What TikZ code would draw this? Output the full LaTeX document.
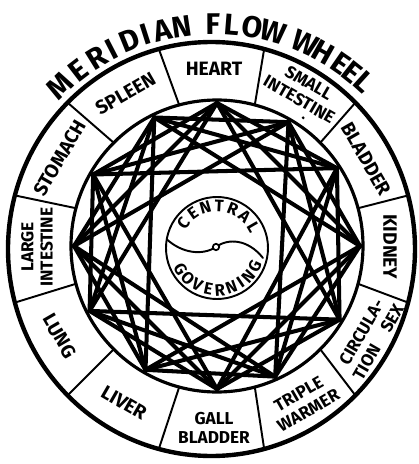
\documentclass[tikz,border=0pt]{standalone}
\usepackage{fontspec}
\setmainfont{Fira Sans}
\begin{document}
\begin{tikzpicture}[x=0.02cm, y=0.02cm, line cap=round, line join=round,
  organ/.style={font=\bfseries\fontsize{11}{11}\selectfont, align=center, inner sep=0pt},
  organtwo/.style={font=\bfseries\fontsize{9.8}{11}\selectfont, align=center, inner sep=0pt},
  titlechar/.style={font=\bfseries\fontsize{17}{17}\selectfont, inner sep=0pt},
  corechar/.style={font=\bfseries\fontsize{9.5}{9.5}\selectfont, inner sep=0pt},
  starline/.style={line width=2.3pt}]
\useasboundingbox (-214,-217) rectangle (205,247);
\coordinate (rimc) at (-2.5,-2);
\coordinate (ringc) at (3,1);
\coordinate (cg) at (3,-1);
% wheel rings and meridian dividers
\draw[line width=2.5pt] (rimc) ellipse [x radius=203.5, y radius=207];
\draw[line width=1.8pt] (ringc) circle [radius=146];
\foreach \a in {15,45,...,345}
  \draw[line width=1.1pt] ([shift={(\a:146)}]ringc) -- ([shift={(\a:203.5 and 207)}]rimc);
% star points
\foreach \n/\a in {0/0, 1/33, 2/60, 3/90, 4/116, 5/150, 6/180, 7/207, 8/240, 9/270, 10/294, 11/329}
  \coordinate (v\n) at ([shift={(\a:143)}]ringc);
\foreach \s in {2,3,4}
  \foreach \i in {0,...,11} {
    \pgfmathtruncatemacro\j{mod(\i+\s,12)}
    \draw[starline] (v\i) -- (v\j);
  }
% central governing
\draw[line width=1.1pt, fill=white] (cg) circle [radius=51];
\draw[line width=1.1pt] (-47,7.5) .. controls (-32,-6) and (-12,-9) .. (2,0)
  .. controls (14,9) and (34,8) .. (49,-11);
\draw[line width=1pt, fill=white] (2,0) circle [radius=3.2];
\foreach \ch/\a [count=\k] in {C/143, E/125, N/106, T/87, R/68, A/49, L/30}
  \node[corechar, rotate=\a-90] (cen\k) at ([shift={(\a:42)}]cg) {\ch};
\foreach \ch/\a [count=\k] in {G/210, O/226, V/242, E/258, R/274, N/290, I/304, N/318, G/334}
  \node[corechar, rotate=\a+90] (gov\k) at ([shift={(\a:42)}]cg) {\ch};
% meridians
\node[organ] (heart) at (90:178) {HEART};
\node[organtwo, rotate=-30] (smallint) at (60:180) {SMALL\\INTESTINE};
\fill (55.4:157) circle [radius=1.6];
\node[organ, rotate=-60] (bladder) at (30:176) {BLADDER};
\node[organ, rotate=-90] (kidney) at (0:176) {KIDNEY};
\node[organtwo, rotate=60] (circsex) at (-30:180) {CIRCULA-\\TION\quad SEX};
\node[organtwo, rotate=30] (triple) at (-60:179) {TRIPLE\\WARMER};
\node[organtwo] (gall) at (-90:181) {GALL\\BLADDER};
\node[organ, rotate=-30] (liver) at (-120:180) {LIVER};
\node[organ, rotate=-60] (lung) at (-150:178) {LUNG};
\node[organtwo, rotate=90] (largeint) at (180:177) {LARGE\\INTESTINE};
\node[organ, rotate=60] (stomach) at (150:178) {STOMACH};
\node[organ, rotate=30] (spleen) at (120:177) {SPLEEN};
% title
\foreach \ch/\a [count=\k] in {M/133.7, E/127.5, R/121.8, I/117.3, D/112.1, I/107.8, A/103.4, N/98.3,
    F/90.3, L/85.4, O/80, W/74.4, W/65.9, H/60.6, E/55.3, E/51.6, L/47.8}
  \node[titlechar, rotate=\a-90] (title\k) at (\a:223) {\ch};
\end{tikzpicture}
\end{document}
